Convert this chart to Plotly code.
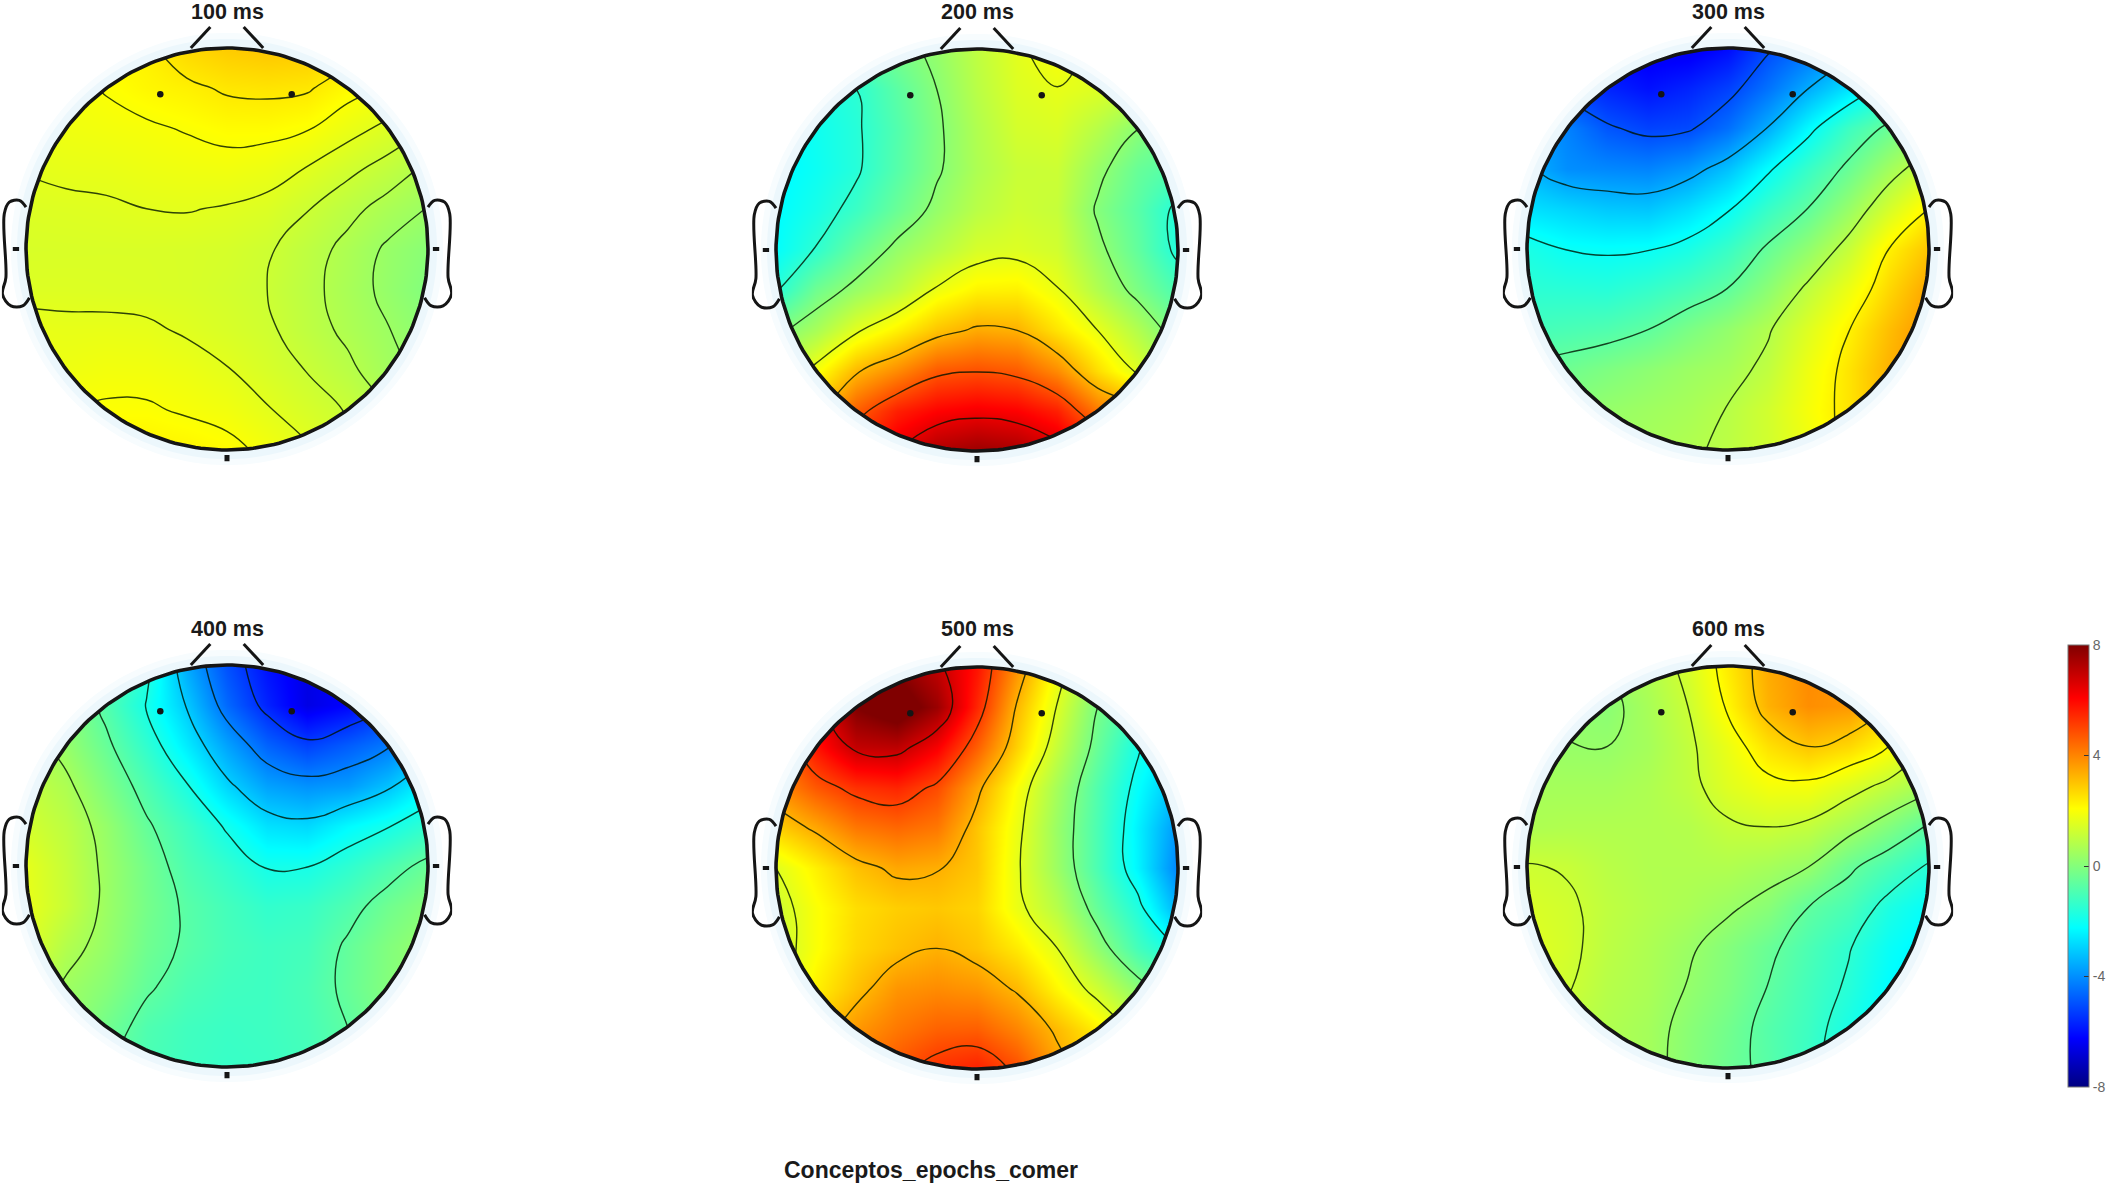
"""Scalp maps of Conceptos_epochs_comer at 100-600 ms, six panels and a shared colorbar."""

import numpy as np
import plotly.graph_objects as go

WIDTH = 2113
HEIGHT = 1184

PANEL_TITLES = ["100 ms", "200 ms", "300 ms", "400 ms", "500 ms", "600 ms"]
PANEL_CX = [227, 977, 1728, 227, 977, 1728]
PANEL_CY = [249, 250, 249, 866, 868, 867]
TITLE_PX_Y = [12, 12, 12, 629, 629, 629]
FIG_TITLE = "Conceptos_epochs_comer"

# head-normalised sampling positions of the potential maps (rows run front to back)
GRID_X = [-1.0, -0.8, -0.6, -0.4, -0.2, 0.0, 0.2, 0.4, 0.6, 0.8, 1.0]
GRID_Y = [1.0, 0.8, 0.6, 0.4, 0.2, 0.0, -0.2, -0.4, -0.6, -0.8, -1.0]

MAP_100 = [
    [2.0, 2.1, 2.2, 2.3, 2.7, 2.9, 3.0, 2.95, 2.6, 2.2, 1.9],
    [1.8, 1.9, 2.03, 2.2, 2.3, 2.46, 2.5, 2.45, 2.15, 1.95, 1.7],
    [1.75, 1.82, 1.88, 1.94, 2.03, 2.13, 2.13, 2.03, 1.75, 1.5, 1.2],
    [1.62, 1.68, 1.7, 1.77, 1.82, 1.85, 1.77, 1.58, 1.31, 1.04, 0.72],
    [1.5, 1.52, 1.55, 1.6, 1.62, 1.57, 1.48, 1.22, 0.93, 0.64, 0.38],
    [1.42, 1.43, 1.44, 1.44, 1.42, 1.38, 1.25, 0.99, 0.68, 0.33, 0.08],
    [1.5, 1.5, 1.48, 1.46, 1.42, 1.33, 1.2, 0.93, 0.62, 0.28, -0.05],
    [1.72, 1.68, 1.69, 1.66, 1.55, 1.42, 1.27, 0.99, 0.7, 0.42, 0.1],
    [1.8, 1.8, 1.87, 1.85, 1.77, 1.62, 1.41, 1.18, 0.9, 0.52, 0.3],
    [2.0, 2.0, 2.05, 2.05, 1.95, 1.85, 1.63, 1.4, 1.17, 0.8, 0.5],
    [2.1, 2.2, 2.3, 2.3, 2.25, 2.13, 1.9, 1.65, 1.25, 0.95, 0.6],
]
MAP_200 = [
    [-1.8, -1.3, -0.7, -0.2, 0.3, 1.0, 1.6, 2.0, 1.55, 1.2, 0.8],
    [-2.3, -1.9, -1.5, -0.7, 0.1, 0.9, 1.5, 1.68, 1.5, 1.2, 0.7],
    [-2.4, -2.0, -1.6, -0.86, -0.03, 0.75, 1.35, 1.45, 0.85, 0.1, -0.4],
    [-2.4, -2.05, -1.6, -0.8, 0.0, 0.7, 1.15, 1.2, 0.3, -0.5, -0.9],
    [-2.3, -1.85, -1.25, -0.45, 0.3, 0.9, 1.25, 1.1, 0.0, -0.75, -1.7],
    [-2.2, -1.45, -0.5, 0.3, 0.85, 1.4, 1.5, 1.3, 0.3, -0.6, -1.7],
    [-1.6, -0.35, 0.35, 0.95, 1.8, 2.26, 2.3, 1.75, 0.75, -0.15, -1.0],
    [-0.1, 0.6, 1.6, 2.28, 3.0, 3.42, 3.3, 2.5, 1.7, 0.77, -0.3],
    [0.8, 1.95, 3.2, 3.9, 4.7, 4.85, 4.67, 3.9, 2.6, 1.55, 0.5],
    [2.0, 3.0, 4.6, 5.6, 6.06, 6.25, 6.1, 5.6, 4.2, 3.6, 2.2],
    [3.2, 4.5, 5.6, 6.5, 7.3, 7.6, 7.4, 6.8, 5.8, 4.6, 3.2],
]
MAP_300 = [
    [-5.3, -5.7, -6.3, -6.5, -6.5, -6.1, -5.1, -4.5, -3.9, -3.3, -2.7],
    [-4.5, -5.3, -5.7, -6.0, -5.7, -5.25, -4.45, -3.55, -2.7, -1.8, -1.3],
    [-3.6, -4.2, -4.9, -5.2, -5.1, -4.5, -3.5, -2.3, -1.2, -0.45, 0.3],
    [-3.4, -4.0, -4.1, -4.17, -3.85, -3.2, -2.2, -1.3, -0.45, 0.5, 1.3],
    [-2.7, -2.9, -3.1, -3.15, -2.75, -2.15, -1.3, -0.6, 0.33, 1.37, 2.3],
    [-1.8, -2.1, -2.17, -2.12, -1.83, -1.28, -0.5, 0.22, 1.12, 2.3, 3.0],
    [-1.5, -1.55, -1.6, -1.36, -1.03, -0.6, 0.13, 1.0, 1.78, 2.7, 3.5],
    [-1.1, -1.0, -0.9, -0.63, -0.18, 0.25, 0.77, 1.52, 2.28, 3.1, 3.8],
    [-0.5, -0.35, -0.1, 0.15, 0.4, 0.58, 1.02, 1.81, 2.5, 3.3, 3.9],
    [0.0, 0.1, 0.3, 0.45, 0.6, 0.87, 1.3, 1.93, 2.5, 3.3, 3.8],
    [0.3, 0.4, 0.5, 0.6, 0.75, 0.95, 1.3, 1.8, 2.5, 3.1, 3.5],
]
MAP_400 = [
    [0.0, -0.2, -0.6, -1.6, -3.6, -5.0, -6.0, -6.6, -6.3, -5.6, -4.6],
    [0.6, 0.1, -0.85, -1.9, -3.1, -4.6, -5.7, -6.6, -6.2, -5.4, -4.4],
    [0.9, 0.3, -0.5, -1.45, -2.55, -3.7, -4.7, -5.25, -4.8, -4.35, -3.4],
    [1.1, 0.7, -0.1, -0.95, -1.8, -2.9, -3.7, -3.95, -3.8, -3.2, -2.3],
    [1.35, 0.95, 0.3, -0.55, -1.2, -1.95, -2.7, -2.85, -2.3, -1.9, -1.4],
    [1.65, 1.1, 0.4, -0.3, -0.95, -1.4, -1.9, -1.87, -1.46, -0.96, -0.45],
    [1.7, 1.15, 0.4, -0.25, -0.75, -1.1, -1.4, -1.3, -0.9, -0.35, 0.05],
    [1.55, 0.8, 0.3, -0.35, -0.75, -1.05, -1.2, -1.1, -0.55, -0.05, 0.35],
    [1.1, 0.45, 0.05, -0.55, -0.95, -1.15, -1.2, -1.0, -0.5, 0.0, 0.3],
    [0.8, 0.4, -0.3, -0.9, -1.15, -1.25, -1.2, -1.05, -0.65, -0.15, 0.2],
    [0.5, 0.1, -0.6, -1.0, -1.2, -1.3, -1.25, -1.1, -0.8, -0.4, -0.1],
]
MAP_500 = [
    [4.0, 5.5, 7.0, 7.8, 7.0, 5.8, 3.8, 1.9, 0.5, -1.0, -2.0],
    [5.0, 6.3, 8.0, 8.6, 7.6, 5.5, 3.2, 1.5, -0.2, -1.2, -1.6],
    [4.2, 5.8, 7.0, 7.1, 6.2, 4.6, 2.8, 1.1, -0.5, -1.85, -2.7],
    [3.8, 4.7, 5.3, 5.5, 4.9, 3.5, 2.0, 0.55, -0.9, -2.2, -3.3],
    [2.8, 3.45, 4.2, 4.45, 4.2, 3.0, 1.75, 0.35, -1.0, -2.45, -3.9],
    [1.55, 2.3, 3.05, 3.45, 3.35, 2.95, 1.65, 0.4, -1.0, -2.4, -4.2],
    [1.2, 2.0, 2.6, 2.85, 2.95, 2.75, 1.75, 0.85, -0.55, -1.7, -3.5],
    [1.1, 2.0, 2.7, 3.05, 3.3, 3.0, 2.4, 1.55, 0.2, -1.1, -2.0],
    [1.2, 2.3, 3.05, 3.75, 3.9, 3.75, 3.2, 2.2, 1.25, 0.15, -0.8],
    [1.5, 2.9, 3.7, 4.2, 4.55, 4.6, 4.0, 3.15, 2.3, 1.2, 0.1],
    [2.6, 3.5, 4.2, 4.8, 5.35, 5.6, 4.9, 3.6, 2.8, 1.8, 0.8],
]
MAP_600 = [
    [0.6, 0.5, 0.5, 0.75, 1.4, 2.4, 3.4, 3.9, 3.7, 2.8, 2.0],
    [0.35, 0.2, 0.1, 0.6, 1.2, 2.2, 3.3, 3.85, 3.7, 2.8, 1.7],
    [0.4, 0.32, 0.3, 0.55, 1.05, 1.75, 2.55, 3.0, 2.7, 2.1, 1.2],
    [0.55, 0.55, 0.55, 0.7, 1.0, 1.54, 1.89, 1.92, 1.48, 0.99, 0.5],
    [0.7, 0.75, 0.75, 0.75, 0.8, 1.1, 1.2, 1.05, 0.55, -0.05, -0.7],
    [1.25, 1.15, 0.9, 0.75, 0.75, 0.75, 0.57, 0.3, -0.47, -1.02, -1.6],
    [1.45, 1.3, 1.0, 0.8, 0.65, 0.4, 0.08, -0.6, -1.0, -1.75, -2.2],
    [1.6, 1.35, 0.95, 0.7, 0.4, 0.0, -0.45, -0.95, -1.45, -2.1, -2.5],
    [1.5, 1.25, 0.85, 0.65, 0.27, -0.1, -0.62, -1.1, -1.6, -2.3, -2.7],
    [1.3, 1.0, 0.75, 0.55, 0.1, -0.3, -0.8, -1.2, -1.85, -2.4, -2.7],
    [1.1, 0.9, 0.7, 0.55, 0.05, -0.4, -0.75, -1.3, -1.9, -2.3, -2.5],
]
PANEL_MAPS = [MAP_100, MAP_200, MAP_300, MAP_400, MAP_500, MAP_600]

# contour levels of each panel: first, last, spacing
LEVEL_START = [0.4, -1.5, -5.0, -5.45, -1.95, -1.5]
LEVEL_END = [2.4, 6.5, 2.3, 0.55, 6.8, 3.0]
LEVEL_SIZE = [0.4, 1.6, 1.46, 1.2, 1.75, 0.9]

JET = [
    [0.0, "rgb(0,0,128)"],
    [0.11, "rgb(0,0,255)"],
    [0.36, "rgb(0,255,255)"],
    [0.63, "rgb(255,255,0)"],
    [0.88, "rgb(255,0,0)"],
    [1.0, "rgb(128,0,0)"],
]
CBAR_TICKS = [8, 4, 0, -4, -8]
CBAR_LABELS = ["8", "4", "0", "-4", "-8"]

# head drawing, in head radii
EAR_X = [1.0, 1.033, 1.083, 1.108, 1.1, 1.117, 1.075, 1.017, 0.983]
EAR_Y = [0.208, 0.242, 0.233, 0.175, -0.142, -0.225, -0.283, -0.283, -0.242]
NOSE_X = [0.18, 0.083]
NOSE_Y = [1.0, 1.105]
FRONT_DOT_X = [-0.332, 0.322]
FRONT_DOT_Y = [0.77, 0.77]
SIDE_DOT_X = [-1.05, 1.04]
SIDE_DOT_Y = [0.0, 0.0]
BACK_DOT_X = [0.0]
BACK_DOT_Y = [-1.04]

HALF_W = 1.12
HALF_H = 1.22
SCALE = 201  # px per head radius

INK = "#151515"


def circle_points(r):
    theta = np.linspace(0, 2 * np.pi, 241)
    return (r * np.cos(theta)).tolist(), (r * np.sin(theta)).tolist()


def ring(inner, outer_x, outer_y):
    # outer path, then the inner circle run backwards, joined by a cut so the fill keeps a hole
    cx, cy = circle_points(inner)
    cx, cy = cx[::-1], cy[::-1]
    return (
        outer_x + [outer_x[0]] + cx + [outer_x[0]],
        outer_y + [outer_y[0]] + cy + [outer_y[0]],
    )


fig = go.Figure()
layout_axes = {}

for i, title in enumerate(PANEL_TITLES):
    suffix = "" if i == 0 else str(i + 1)
    xname, yname = f"x{suffix}", f"y{suffix}"
    cx, cy = PANEL_CX[i], PANEL_CY[i]
    pad_x, pad_y = HALF_W * SCALE, HALF_H * SCALE
    layout_axes[f"xaxis{suffix}"] = dict(
        domain=[(cx - pad_x) / WIDTH, (cx + pad_x) / WIDTH],
        range=[-HALF_W, HALF_W],
        visible=False,
        anchor=yname,
    )
    layout_axes[f"yaxis{suffix}"] = dict(
        domain=[1 - (cy + pad_y) / HEIGHT, 1 - (cy - pad_y) / HEIGHT],
        range=[-HALF_H, HALF_H],
        visible=False,
        anchor=xname,
    )

    fig.add_trace(
        go.Contour(
            x=GRID_X,
            y=GRID_Y[::-1],
            z=PANEL_MAPS[i][::-1],
            coloraxis="coloraxis",
            contours=dict(
                coloring="heatmap",
                start=LEVEL_START[i],
                end=LEVEL_END[i],
                size=LEVEL_SIZE[i],
            ),
            line=dict(color="rgba(0,20,0,0.8)", width=1.4, smoothing=1.3),
            hoverinfo="skip",
            xaxis=xname,
            yaxis=yname,
        )
    )

    # white out everything past the head, then the pale rim around it
    square_x = [-1.04, 1.04, 1.04, -1.04]
    square_y = [-1.04, -1.04, 1.04, 1.04]
    mask_x, mask_y = ring(1.0, square_x, square_y)
    fig.add_trace(
        go.Scatter(
            x=mask_x, y=mask_y, mode="none", fill="toself", fillcolor="white",
            hoverinfo="skip", xaxis=xname, yaxis=yname,
        )
    )
    for r_out, colour in [(1.075, "#f7fcfe"), (1.045, "#ecf7fc")]:
        rim_x, rim_y = circle_points(r_out)
        rim_x, rim_y = ring(1.0, rim_x, rim_y)
        fig.add_trace(
            go.Scatter(
                x=rim_x, y=rim_y, mode="none", fill="toself", fillcolor=colour,
                hoverinfo="skip", xaxis=xname, yaxis=yname,
            )
        )

    head_x, head_y = circle_points(1.0)
    outlines = [
        (head_x, head_y, 3.6),
        (NOSE_X, NOSE_Y, 3),
        ([-v for v in NOSE_X], NOSE_Y, 3),
        (EAR_X, EAR_Y, 3),
        ([-v for v in EAR_X], EAR_Y, 3),
    ]
    for ox, oy, w in outlines:
        fig.add_trace(
            go.Scatter(
                x=ox, y=oy, mode="lines",
                line=dict(color=INK, width=w, shape="spline" if len(ox) == len(EAR_X) else "linear"),
                hoverinfo="skip", xaxis=xname, yaxis=yname,
            )
        )
    fig.add_trace(
        go.Scatter(
            x=FRONT_DOT_X, y=FRONT_DOT_Y, mode="markers",
            marker=dict(color=INK, size=6.5),
            hoverinfo="skip", xaxis=xname, yaxis=yname,
        )
    )
    fig.add_trace(
        go.Scatter(
            x=SIDE_DOT_X, y=SIDE_DOT_Y, mode="markers",
            marker=dict(symbol="line-ew-open", size=4.5, color=INK, line=dict(color=INK, width=4)),
            hoverinfo="skip", xaxis=xname, yaxis=yname,
        )
    )
    fig.add_trace(
        go.Scatter(
            x=BACK_DOT_X, y=BACK_DOT_Y, mode="markers",
            marker=dict(symbol="line-ns-open", size=4.5, color=INK, line=dict(color=INK, width=5)),
            hoverinfo="skip", xaxis=xname, yaxis=yname,
        )
    )
    fig.add_annotation(
        x=cx / WIDTH, y=1 - TITLE_PX_Y[i] / HEIGHT, xref="paper", yref="paper",
        xanchor="center", yanchor="middle",
        text=f"<b>{title}</b>", showarrow=False,
        font=dict(family="Liberation Sans", size=21.5, color="#1a1a1a"),
    )

fig.add_annotation(
    x=931 / WIDTH, y=1 - 1170 / HEIGHT, xref="paper", yref="paper",
    xanchor="center", yanchor="middle",
    text=f"<b>{FIG_TITLE}</b>", showarrow=False,
    font=dict(family="Liberation Sans", size=23, color="#1a1a1a"),
)

fig.update_layout(
    width=WIDTH,
    height=HEIGHT,
    margin=dict(l=0, r=0, t=0, b=0),
    paper_bgcolor="white",
    plot_bgcolor="rgba(0,0,0,0)",
    showlegend=False,
    coloraxis=dict(
        cmin=-8,
        cmax=8,
        colorscale=JET,
        colorbar=dict(
            x=2068 / WIDTH,
            xanchor="left",
            xpad=0,
            y=1 - 1087 / HEIGHT,
            yanchor="bottom",
            ypad=0,
            len=442 / HEIGHT,
            lenmode="fraction",
            thickness=21,
            thicknessmode="pixels",
            tickmode="array",
            tickvals=CBAR_TICKS,
            ticktext=CBAR_LABELS,
            ticks="inside",
            ticklen=5,
            tickcolor="#333333",
            tickfont=dict(family="Liberation Sans", size=14, color="#666666"),
            outlinecolor="#777777",
            outlinewidth=1,
        ),
    ),
    **layout_axes,
)

fig.write_html(
    "out.html",
    config={"displayModeBar": False},
    post_script="document.body.style.margin = '0';",
)
